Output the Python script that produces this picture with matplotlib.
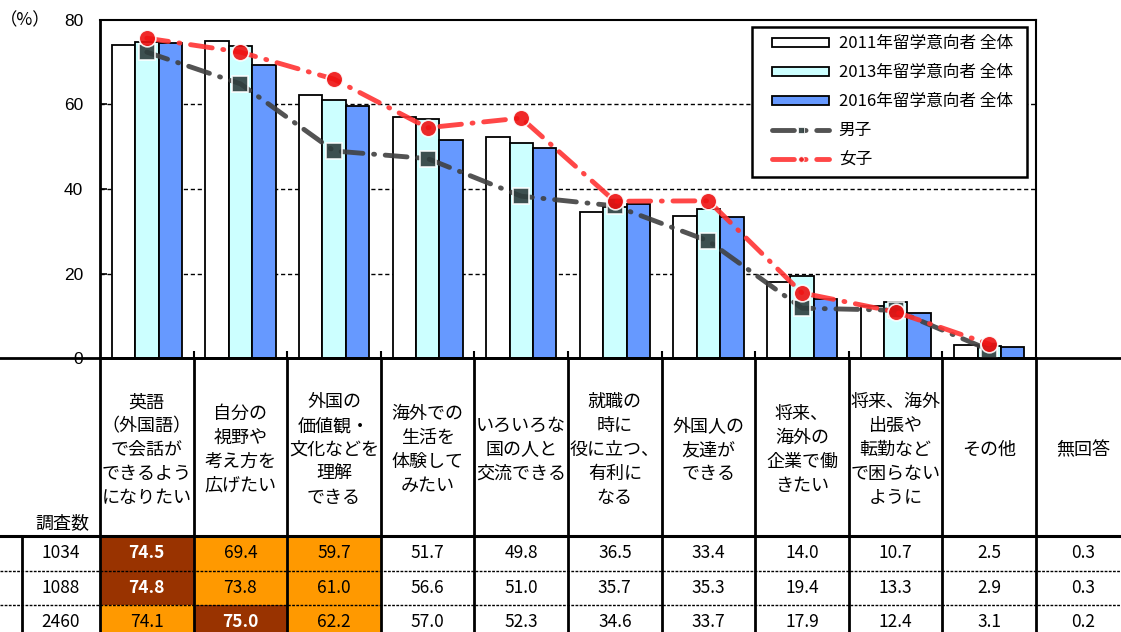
import matplotlib
matplotlib.use("Agg")
import matplotlib.pyplot as plt
from matplotlib.lines import Line2D
from matplotlib.patches import Patch
from matplotlib.legend_handler import HandlerPatch, HandlerLine2D
import numpy as np

plt.rcParams['font.family'] = ['Noto Sans CJK JP', 'DejaVu Sans']

# ---------------- data ----------------
categories = [
    "英語\n（外国語）\nで会話が\nできるよう\nになりたい",
    "自分の\n視野や\n考え方を\n広げたい",
    "外国の\n価値観・\n文化などを\n理解\nできる",
    "海外での\n生活を\n体験して\nみたい",
    "いろいろな\n国の人と\n交流できる",
    "就職の\n時に\n役に立つ、\n有利に\nなる",
    "外国人の\n友達が\nできる",
    "将来、\n海外の\n企業で働\nきたい",
    "将来、海外\n出張や\n転勤など\nで困らない\nように",
    "その他",
    "無回答",
]
series_labels = ["2011年留学意向者 全体", "2013年留学意向者 全体", "2016年留学意向者 全体"]
values_2011 = [74.1, 75.0, 62.2, 57.0, 52.3, 34.6, 33.7, 17.9, 12.4, 3.1, 0.2]
values_2013 = [74.8, 73.8, 61.0, 56.6, 51.0, 35.7, 35.3, 19.4, 13.3, 2.9, 0.3]
values_2016 = [74.5, 69.4, 59.7, 51.7, 49.8, 36.5, 33.4, 14.0, 10.7, 2.5, 0.3]
male_values = [72.4, 64.9, 49.0, 47.2, 38.3, 36.0, 27.7, 11.8, 11.3, 1.9]
female_values = [75.7, 72.4, 66.0, 54.5, 56.8, 37.1, 37.2, 15.4, 10.9, 3.3]
line_labels = ["男子", "女子"]
table_sample_sizes = [1034, 1088, 2460]
table_rows = [values_2016, values_2013, values_2011]
sample_header = "調査数"
yticks = [0, 20, 40, 60, 80]

# ---------------- layout ----------------
W, H = 1121, 632
AX_L, AX_R, AX_T, AX_B = 100, 1036, 20, 358
n_chart = 10
ppc = (AX_R - AX_L) / n_chart          # pixels per category


def px2cat(px):
    return -0.5 + (px - AX_L) / ppc


bar_colors = ["#FFFFFF", "#CCFFFF", "#6699FF"]
male_color = "#404040"
female_color = "#FF3333"

fig = plt.figure(figsize=(W / 100, H / 100), dpi=100)
ax = fig.add_axes([AX_L / W, 1 - AX_B / H, (AX_R - AX_L) / W, (AX_B - AX_T) / H])

x = np.arange(n_chart)
bw = 0.25
for k, vals in enumerate([values_2011, values_2013, values_2016]):
    ax.bar(x + (k - 1) * bw, vals[:n_chart], width=bw, color=bar_colors[k],
           edgecolor="black", linewidth=1.3, zorder=2)

male_style = dict(color=male_color, lw=3.5, alpha=0.9, dashes=(4.5, 2.2, 0.2, 2.2),
                  dash_capstyle="round")
female_style = dict(color=female_color, lw=3.5, alpha=0.9, dashes=(4.5, 2.2, 0.2, 2.2),
                    dash_capstyle="round")
ax.plot(x, male_values, zorder=4, marker="s", markersize=12,
        markerfacecolor="#2E3D3D", markeredgecolor="white", markeredgewidth=1.2,
        **male_style)
ax.plot(x, female_values, zorder=5, marker="o", markersize=12,
        markerfacecolor="#EE1111", markeredgecolor="white", markeredgewidth=1.2,
        **female_style)

ax.set_xlim(-0.5, n_chart - 0.5)
ax.set_ylim(0, 80)
ax.set_yticks(yticks)
ax.set_yticklabels([str(v) for v in yticks], family=["Liberation Sans"], fontsize=12.5)
for g in yticks[1:-1]:
    ax.axhline(g, color="black", lw=1.0, ls=(0, (3, 2)), zorder=1)
ax.tick_params(axis="y", direction="in", length=5, width=1.2, pad=12)
ax.set_xticks([])
ax.set_xticks(np.arange(n_chart - 1) + 0.5, minor=True)
ax.tick_params(axis="x", which="minor", direction="in", length=5, width=1.5)
for s in ["left", "bottom"]:
    ax.spines[s].set_linewidth(2)
for s in ["top", "right"]:
    ax.spines[s].set_linewidth(1.5)

fig.text(25 / W, 1 - 20 / H, "（%）", ha="center", va="center", fontsize=12.5)

handles = [Patch(facecolor=c, edgecolor="black", linewidth=1.3) for c in bar_colors]
handles.append(Line2D([], [], marker="s", markersize=4, markerfacecolor="#2E3D3D",
                      markeredgecolor="white", markeredgewidth=0.6, **male_style))
handles.append(Line2D([], [], marker="o", markersize=4, markerfacecolor="#EE1111",
                      markeredgecolor="white", markeredgewidth=0.6, **female_style))
leg = ax.legend(handles, series_labels + line_labels,
                loc="upper left", bbox_to_anchor=((752 - AX_L) / ppc / n_chart, 0.5,
                                                  (1027 - 752) / ppc / n_chart,
                                                  (AX_B - 27) / (AX_B - AX_T) - 0.5),
                mode="expand", fontsize=12, handlelength=4.1, handleheight=0.5,
                handletextpad=0.6, labelspacing=0.72, borderpad=0.5,
                fancybox=False, framealpha=1, edgecolor="black", borderaxespad=0,
                handler_map={Patch: HandlerPatch(xpad=0.72),
                             Line2D: HandlerLine2D(xpad=0.72)})
leg.get_frame().set_linewidth(1.8)
leg.set_zorder(10)

# ---------------- table ----------------
tax = fig.add_axes([0, 0, 1, 1 - AX_B / H])
tax.set_xlim(px2cat(0), px2cat(W))
TH = H - AX_B
tax.set_ylim(TH, 0)
tax.axis("off")
header_h = 178
row_h = 34.5

for i, lab in enumerate(categories):
    tax.text(i, header_h / 2 + 3, lab, ha="center", va="center", fontsize=13,
             linespacing=1.42)
tax.text(px2cat(62), header_h - 13, sample_header, ha="center", va="center", fontsize=13)

dark, orange = "#993300", "#FF9900"
for r, (n, vals) in enumerate(zip(table_sample_sizes, table_rows)):
    y0 = header_h + r * row_h
    yc = y0 + row_h / 2
    tax.text(px2cat(61), yc, str(n), ha="center", va="center", fontsize=12.5)
    order = list(np.argsort(vals)[::-1])
    for j, v in enumerate(vals):
        rank = order.index(j)
        color = "black"
        weight = "normal"
        if rank == 0:
            tax.bar(j, row_h, bottom=y0, width=1, color=dark, linewidth=0, zorder=0)
            color, weight = "white", "bold"
        elif rank <= 2:
            tax.bar(j, row_h, bottom=y0, width=1, color=orange, linewidth=0, zorder=0)
        tax.text(j, yc, f"{v:.1f}", ha="center", va="center", fontsize=12.5,
                 color=color, weight=weight, zorder=3)

tax.axhline(0, color="black", lw=2, clip_on=False, zorder=4)
tax.axhline(header_h, color="black", lw=2.2, zorder=4)
for r in range(1, len(table_rows)):
    tax.axhline(header_h + r * row_h, color="black", lw=1.0, ls=(0, (2, 1)), zorder=4)
tax.vlines(np.arange(len(categories) + 1) - 0.5, 0, TH, color="black", lw=2, zorder=4)
tax.vlines(px2cat(22), header_h, TH, color="black", lw=2, zorder=4)

fig.savefig("out.png", dpi=100)
